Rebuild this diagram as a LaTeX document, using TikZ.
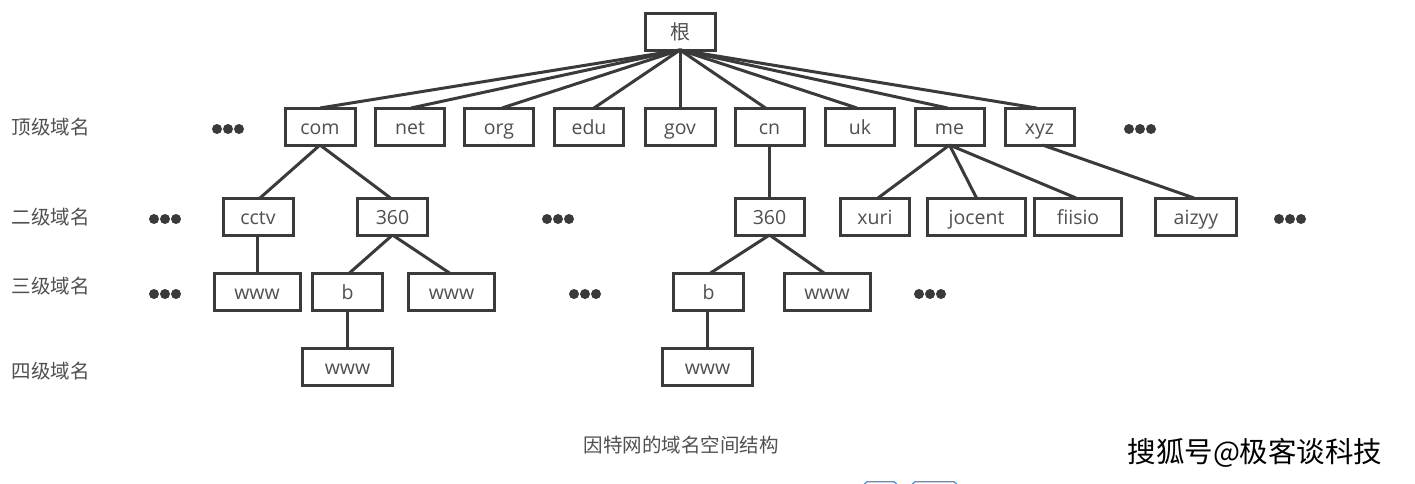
\documentclass[tikz,border=0pt]{standalone}
\usepackage{fontspec}
\setmainfont{Open Sans}
\newfontfamily\cjk{Noto Sans CJK SC}
\definecolor{ink}{HTML}{3A3A3A}
\definecolor{txt}{HTML}{505050}
\definecolor{tabblue}{HTML}{4A90E2}
\tikzset{
  dombox/.style={draw=ink,line width=3pt,inner sep=0pt,outer sep=0pt,minimum height=37pt,
    text=txt,font=\fontsize{19.5}{24}\selectfont,text height=18pt,text depth=3pt,align=center},
  link/.style={draw=ink,line width=3pt},
  lvl/.style={text=txt,font=\cjk\fontsize{19.5}{24}\selectfont,inner sep=0pt},
  pics/threedots/.style={code={\fill[ink] (-11,0) circle (5pt) (0,0) circle (5pt) (11,0) circle (5pt);}}
}
\begin{document}
\begin{tikzpicture}[x=1pt,y=-1pt]
\useasboundingbox[fill=white] (0,0) rectangle (1415,483);
% root and top level
\node[dombox,minimum width=70pt,font=\cjk\fontsize{20}{24}\selectfont] (root) at (680,31.5) {根};
\node[dombox,minimum width=70pt] (com) at (320,126.5) {com};
\node[dombox,minimum width=69pt] (net) at (410,126.5) {net};
\node[dombox,minimum width=69pt] (org) at (499,126.5) {org};
\node[dombox,minimum width=69pt] (edu) at (589,126.5) {edu};
\node[dombox,minimum width=70pt] (gov) at (680,126.5) {gov};
\node[dombox,minimum width=69pt] (cn) at (769.5,126.5) {cn};
\node[dombox,minimum width=69pt] (uk) at (860,126.5) {uk};
\node[dombox,minimum width=69pt] (me) at (949.5,126.5) {me};
\node[dombox,minimum width=69pt] (xyz) at (1039.5,126.5) {xyz};
% second level
\node[dombox,minimum width=70pt] (cctv) at (258,216.5) {cctv};
\node[dombox,minimum width=70pt] (s360a) at (392.5,216.5) {360};
\node[dombox,minimum width=69pt] (s360b) at (769.5,216.5) {360};
\node[dombox,minimum width=69pt] (xuri) at (875,216.5) {xuri};
\node[dombox,minimum width=98pt] (jocent) at (976.5,216.5) {jocent};
\node[dombox,minimum width=87pt] (fiisio) at (1078,216.5) {fiisio};
\node[dombox,minimum width=81pt] (aizyy) at (1196,216.5) {aizyy};
% third level
\node[dombox,minimum width=86pt] (w3a) at (257,291.5) {www};
\node[dombox,minimum width=70pt] (b3a) at (347.5,291.5) {b};
\node[dombox,minimum width=86pt] (w3b) at (451.5,291.5) {www};
\node[dombox,minimum width=70pt] (b3b) at (708.5,291.5) {b};
\node[dombox,minimum width=86pt] (w3c) at (827,291.5) {www};
% fourth level
\node[dombox,minimum width=90pt] (w4a) at (347.5,366.5) {www};
\node[dombox,minimum width=90pt] (w4b) at (707.5,366.5) {www};
% links
\draw[link] (root.south) -- (com.north);
\draw[link] (root.south) -- ([xshift=1pt]net.north);
\draw[link] (root.south) -- ([xshift=3pt]org.north);
\draw[link] (root.south) -- ([xshift=5pt]edu.north);
\draw[link] (root.south) -- (gov.north);
\draw[link] (root.south) -- ([xshift=-4pt]cn.north);
\draw[link] (root.south) -- ([xshift=-3pt]uk.north);
\draw[link] (root.south) -- ([xshift=-2pt]me.north);
\draw[link] (root.south) -- ([xshift=-3pt]xyz.north);
\draw[link] (com.south) -- ([xshift=2pt]cctv.north);
\draw[link] (com.south) -- ([xshift=-2pt]s360a.north);
\draw[link] (cn.south) -- (s360b.north);
\draw[link] (me.south) -- ([xshift=3pt]xuri.north);
\draw[link] (me.south) -- (jocent.north);
\draw[link] (me.south) -- ([xshift=-2pt]fiisio.north);
\draw[link] ([xshift=3pt]xyz.south) -- ([xshift=-2pt]aizyy.north);
\draw[link] ([xshift=-1pt]cctv.south) -- (w3a.north);
\draw[link] (s360a.south) -- ([xshift=2pt]b3a.north);
\draw[link] (s360a.south) -- ([xshift=-2pt]w3b.north);
\draw[link] (s360b.south) -- ([xshift=2pt]b3b.north);
\draw[link] (s360b.south) -- ([xshift=-3pt]w3c.north);
\draw[link] (b3a.south) -- (w4a.north);
\draw[link] ([xshift=-1pt]b3b.south) -- (w4b.north);
% level labels
\node[lvl] (l1) at (51,127) {顶级域名};
\node[lvl] (l2) at (51,217.5) {二级域名};
\node[lvl] (l3) at (51,286) {三级域名};
\node[lvl] (l4) at (51,371.5) {四级域名};
% ellipses
\pic at (228,129) {threedots};
\pic at (1140,129) {threedots};
\pic at (165,219) {threedots};
\pic at (558,219) {threedots};
\pic at (1290,219) {threedots};
\pic at (165,294) {threedots};
\pic at (585,294) {threedots};
\pic at (930,294) {threedots};
% caption and watermark
\node[lvl] (cap) at (681,445) {因特网的域名空间结构};
\node[inner sep=0pt,text=black,font=\cjk\fontsize{28.5}{32}\selectfont] (mark) at (1255,452.5) {搜狐号@极客谈科技};
% cropped tabs at bottom edge
\draw[tabblue,line width=1.2pt,rounded corners=2pt] (864,486) -- (865,481.8) -- (896,481.8) -- (897,486);
\draw[tabblue,line width=1.2pt,rounded corners=2pt] (912,486) -- (913,481.8) -- (956,481.8) -- (957,486);
\end{tikzpicture}
\end{document}
